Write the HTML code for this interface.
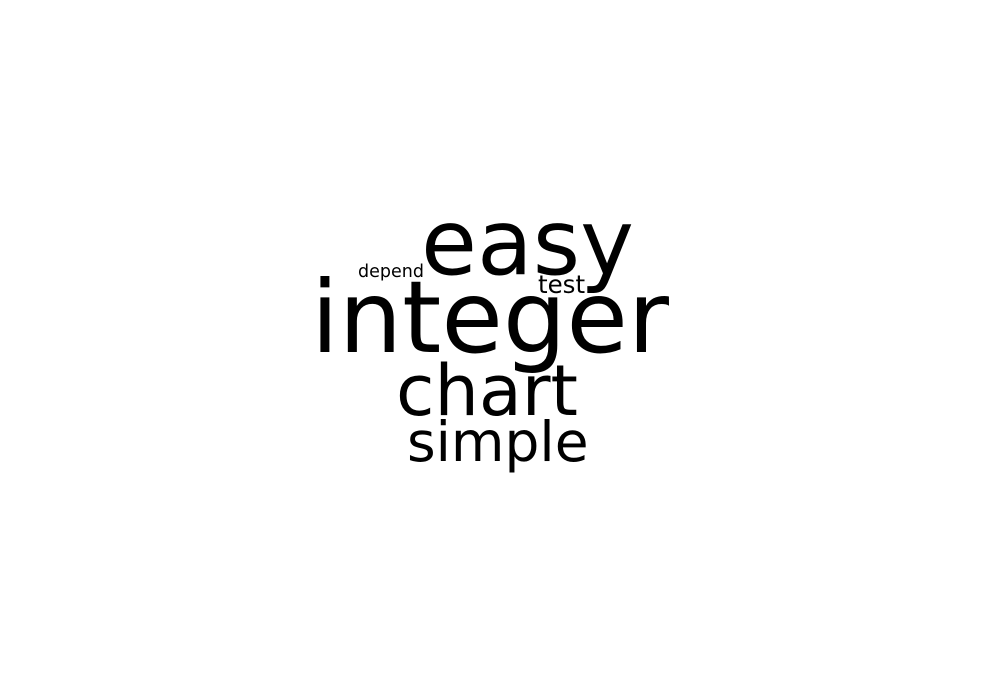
<!DOCTYPE html>
<html><head><meta charset="utf-8"><style>
html,body{margin:0;padding:0;background:#fff;}
svg{display:block;}
text{font-family:"DejaVu Sans","Liberation Sans",sans-serif;fill:#000;}
</style></head><body>
<svg width="1000" height="700" viewBox="0 0 1000 700">
<g id="words"></g>
</svg>
<script>
const words = ["integer","easy","chart","simple","test","depend"];
const sizes = [100,91,70,55,24.5,17.5];
const xs = [311,421,396,407,538,358];
const ys = [352,274,415,461,293,277];
const g = document.getElementById('words');
words.forEach((w,i)=>{
  const t = document.createElementNS('http://www.w3.org/2000/svg','text');
  t.setAttribute('x', xs[i]);
  t.setAttribute('y', ys[i]);
  t.setAttribute('font-size', sizes[i]);
  t.textContent = w;
  
  
  g.appendChild(t);
});
</script>
</body></html>
